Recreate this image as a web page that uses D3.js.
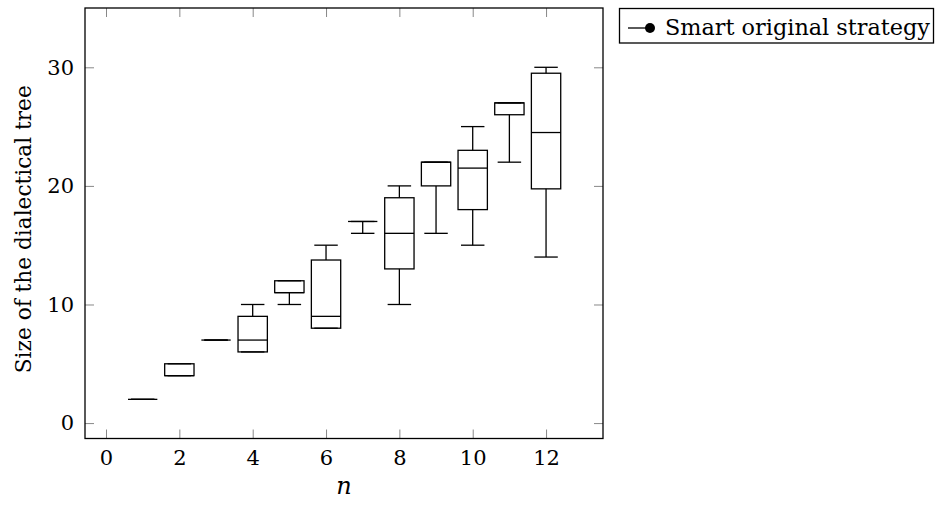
<!DOCTYPE html>
<html>
<head>
<meta charset="utf-8">
<script src="https://cdn.jsdelivr.net/npm/d3@7"></script>
<style>
	body { margin: 0; background: #fff; }
	svg text { font-family: "DejaVu Serif"; fill: #000; }
</style>
</head>
<body>
<div id="chart"></div>
<script>
let W = 948, H = 505;

// boxplot values for each n
let nValues = [1, 2, 3, 4, 5, 6, 7, 8, 9, 10, 11, 12];
let lowerWhisker = [2, 4, 7, 6, 10, 8, 16, 10, 16, 15, 22, 14];
let lowerQuartile = [2, 4, 7, 6, 11, 8, 17, 13, 20, 18, 26, 19.75];
let median = [2, 4, 7, 7, 11, 9, 17, 16, 22, 21.5, 27, 24.5];
let upperQuartile = [2, 5, 7, 9, 12, 13.75, 17, 19, 22, 23, 27, 29.5];
let upperWhisker = [2, 5, 7, 10, 12, 15, 17, 20, 22, 25, 27, 30];

let xTicks = [0, 2, 4, 6, 8, 10, 12];
let yTicks = [0, 10, 20, 30];
let legendLabel = "Smart original strategy";

let plotL = 85, plotR = 603, plotT = 8, plotB = 438.5;
let boxExtend = 0.8, whiskerExtend = 0.64;
let serif = "'DejaVu Serif'";

let x = d3.scaleLinear().domain([-0.573, 13.553]).range([plotL, plotR]);
let y = d3.scaleLinear().domain([-1.3, 35]).range([plotB, plotT]);

let boxes = nValues.map(function(n, i) {
	return {n: n, lw: lowerWhisker[i], q1: lowerQuartile[i], med: median[i],
		q3: upperQuartile[i], uw: upperWhisker[i]};
});

let svg = d3.select("#chart").append("svg")
	.attr("width", W)
	.attr("height", H);

// axes with inward ticks
let tickLen = 9;
let gx = svg.append("g")
	.attr("transform", "translate(0," + plotB + ")")
	.call(d3.axisBottom(x).tickValues(xTicks).tickSizeInner(-tickLen).tickSizeOuter(0).tickPadding(12));
let gxTop = svg.append("g")
	.attr("transform", "translate(0," + plotT + ")")
	.call(d3.axisTop(x).tickValues(xTicks).tickSizeInner(-tickLen).tickSizeOuter(0).tickFormat(""));
let gy = svg.append("g")
	.attr("transform", "translate(" + plotL + ",0)")
	.call(d3.axisLeft(y).tickValues(yTicks).tickSizeInner(-tickLen).tickSizeOuter(0).tickPadding(11));
let gyRight = svg.append("g")
	.attr("transform", "translate(" + plotR + ",0)")
	.call(d3.axisRight(y).tickValues(yTicks).tickSizeInner(-tickLen).tickSizeOuter(0).tickFormat(""));

[gx, gxTop, gy, gyRight].forEach(function(g) {
	g.attr("font-family", serif);
	g.select(".domain").remove();
	g.selectAll(".tick line").attr("stroke", "#888").attr("stroke-width", 1);
	g.selectAll(".tick text")
		.attr("font-family", serif)
		.style("font-size", "21px");
});

// frame
svg.append("rect")
	.attr("x", plotL)
	.attr("y", plotT)
	.attr("width", plotR - plotL)
	.attr("height", plotB - plotT)
	.attr("fill", "none")
	.attr("stroke", "#000")
	.attr("stroke-width", 1.3);

// boxplots
let bw = x(boxExtend / 2) - x(0);
let ww = x(whiskerExtend / 2) - x(0);
let g = svg.selectAll("g.box")
	.data(boxes)
	.enter().append("g")
	.attr("class", "box")
	.attr("fill", "none")
	.attr("stroke", "#000")
	.attr("stroke-width", 1.3);

// whisker stems
g.append("line")
	.attr("x1", function(d) { return x(d.n); })
	.attr("x2", function(d) { return x(d.n); })
	.attr("y1", function(d) { return y(d.uw); })
	.attr("y2", function(d) { return y(d.q3); });
g.append("line")
	.attr("x1", function(d) { return x(d.n); })
	.attr("x2", function(d) { return x(d.n); })
	.attr("y1", function(d) { return y(d.q1); })
	.attr("y2", function(d) { return y(d.lw); });
// whisker caps
g.append("line")
	.attr("x1", function(d) { return x(d.n) - ww; })
	.attr("x2", function(d) { return x(d.n) + ww; })
	.attr("y1", function(d) { return y(d.uw); })
	.attr("y2", function(d) { return y(d.uw); });
g.append("line")
	.attr("x1", function(d) { return x(d.n) - ww; })
	.attr("x2", function(d) { return x(d.n) + ww; })
	.attr("y1", function(d) { return y(d.lw); })
	.attr("y2", function(d) { return y(d.lw); });
// box
g.append("rect")
	.attr("x", function(d) { return x(d.n) - bw; })
	.attr("y", function(d) { return y(d.q3); })
	.attr("width", 2 * bw)
	.attr("height", function(d) { return y(d.q1) - y(d.q3); });
// median
g.append("line")
	.attr("x1", function(d) { return x(d.n) - bw; })
	.attr("x2", function(d) { return x(d.n) + bw; })
	.attr("y1", function(d) { return y(d.med); })
	.attr("y2", function(d) { return y(d.med); });

// axis labels
svg.append("text")
	.attr("x", (plotL + plotR) / 2)
	.attr("y", 494)
	.attr("text-anchor", "middle")
	.attr("font-family", serif)
	.style("font-size", "24px")
	.style("font-style", "italic")
	.text("n");

svg.append("text")
	.attr("transform", "translate(31," + ((plotT + plotB) / 2 + 6) + ") rotate(-90)")
	.attr("text-anchor", "middle")
	.attr("font-family", serif)
	.attr("textLength", 288)
	.attr("lengthAdjust", "spacingAndGlyphs")
	.style("font-size", "22px")
	.text("Size of the dialectical tree");

// legend
let legend = svg.append("g");
legend.append("rect")
	.attr("x", 619.5)
	.attr("y", 8.5)
	.attr("width", 314)
	.attr("height", 34.5)
	.attr("fill", "#fff")
	.attr("stroke", "#000")
	.attr("stroke-width", 1.3);
legend.append("line")
	.attr("x1", 628)
	.attr("x2", 650)
	.attr("y1", 28)
	.attr("y2", 28)
	.attr("stroke", "#000")
	.attr("stroke-width", 1.3);
legend.append("circle")
	.attr("cx", 650)
	.attr("cy", 28)
	.attr("r", 5)
	.attr("fill", "#000");
legend.append("text")
	.attr("x", 665)
	.attr("y", 35)
	.attr("font-family", serif)
	.attr("textLength", 265)
	.attr("lengthAdjust", "spacingAndGlyphs")
	.style("font-size", "22px")
	.text(legendLabel);
</script>
</body>
</html>
